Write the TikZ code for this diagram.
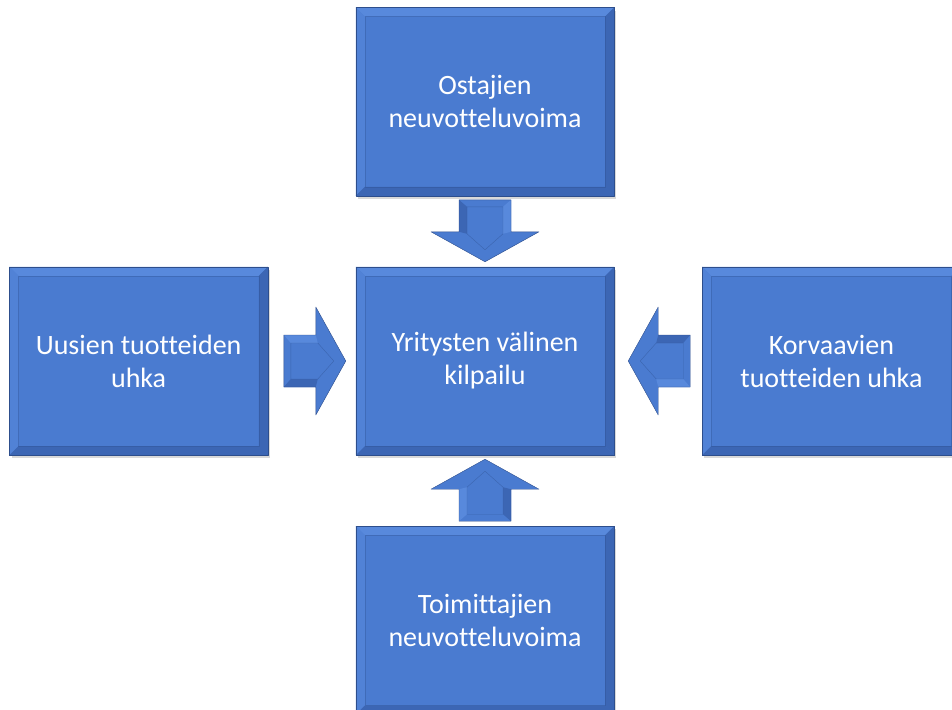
\documentclass[tikz,border=0pt]{standalone}
\usepackage{fontspec}
\setmainfont{Carlito}[Ligatures=CommonOff]
\usetikzlibrary{positioning,shadows}
\definecolor{boxblue}{RGB}{74,123,208}
\definecolor{boxedge}{RGB}{45,78,140}
\definecolor{bevlight}{RGB}{88,137,220}
\definecolor{bevdark}{RGB}{60,102,180}
\tikzset{
  box/.style={draw=boxedge, fill=boxblue, minimum width=258pt, minimum height=188pt,
    text=white, align=center, font=\fontsize{28}{33}\selectfont,
    drop shadow={opacity=.3, shadow xshift=2pt, shadow yshift=-3pt}},
}
\begin{document}
\begin{tikzpicture}[x=1pt, y=-1pt, line join=round]
\useasboundingbox (0,0) rectangle (952,709);
\clip (0,0) rectangle (952,709);

\node[box] (yri) at (485,361) {Yritysten välinen\\kilpailu};
\node[box, above=71pt of yri] (ost) {Ostajien\\neuvotteluvoima};
\node[box, below=71pt of yri] (toi) {Toimittajien\\neuvotteluvoima};
\node[box, left=88pt of yri] (uus) {Uusien tuotteiden\\uhka};
\node[box, right=88pt of yri] (kor) {Korvaavien\\tuotteiden uhka};

% bevel edges
\foreach \n in {yri,ost,toi,uus,kor}
{
    \fill[bevlight] (\n.north west) -- (\n.north east) -- ([shift={(-9,9)}]\n.north east) -- ([shift={(9,9)}]\n.north west) -- cycle;
    \fill[bevlight!50!boxblue] (\n.north west) -- ([shift={(9,9)}]\n.north west) -- ([shift={(9,-9)}]\n.south west) -- (\n.south west) -- cycle;
    \fill[bevdark] (\n.north east) -- (\n.south east) -- ([shift={(-9,-9)}]\n.south east) -- ([shift={(-9,9)}]\n.north east) -- cycle;
    \fill[bevdark] (\n.south west) -- (\n.south east) -- ([shift={(-9,-9)}]\n.south east) -- ([shift={(9,-9)}]\n.south west) -- cycle;
    \draw[boxedge, opacity=.35] ([shift={(9,9)}]\n.north west) rectangle ([shift={(-9,-9)}]\n.south east);
    \draw[boxedge] (\n.north west) rectangle (\n.south east);
}

% arrow tips
\coordinate (tn) at ([yshift=5pt]yri.north);
\coordinate (ts) at ([yshift=-4pt]yri.south);
\coordinate (tw) at ([xshift=-10pt]yri.west);
\coordinate (te) at ([xshift=14pt]yri.east);

\foreach \t/\a in {tn/-90,ts/90,tw/0,te/180}
{
    \begin{scope}[shift={(\t)}, rotate=\a]
    \fill[boxblue] (0,0) -- (-30,54) -- (-30,26) -- (-62,26) -- (-62,-26) -- (-30,-26) -- (-30,-54) -- cycle;
    \fill[bevlight] (-62,-26) -- (-30,-26) -- (-28,-18) -- (-55,-18) -- cycle;
    \fill[bevdark] (-62,26) -- (-30,26) -- (-28,18) -- (-55,18) -- cycle;
    \draw[boxedge, opacity=.5] (-55,-18) -- (-28,-18) -- (-12,0) -- (-28,18) -- (-55,18) -- cycle;
    \draw[boxedge] (0,0) -- (-30,54) -- (-30,26) -- (-62,26) -- (-62,-26) -- (-30,-26) -- (-30,-54) -- cycle;
    \end{scope}
}

\end{tikzpicture}
\end{document}
